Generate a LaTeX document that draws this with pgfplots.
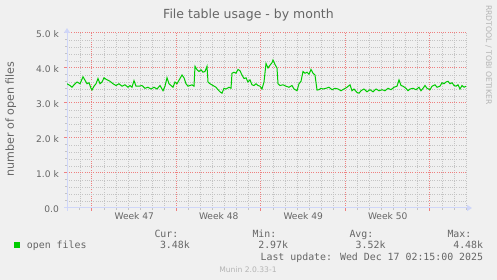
\documentclass[border=0pt]{standalone}
\usepackage{pgfplots}
\pgfplotsset{compat=1.18}
\usepackage{pgfplotstable}
\usepackage{fontspec}
\setmainfont{DejaVu Sans}
\newfontfamily\mono{DejaVu Sans Mono}
\usetikzlibrary{arrows.meta}
\definecolor{bg}{HTML}{F0F0F0}
\definecolor{fontc}{HTML}{666666}
\definecolor{axiscol}{HTML}{CFD6F8}
\definecolor{mgridc}{HTML}{EE8080}
\definecolor{gridc}{HTML}{C4C4C4}
\definecolor{linec}{HTML}{00CC00}
\definecolor{wm}{HTML}{B4B4B4}

\pgfplotstableread{
day value
0 3550
0.249 3500
0.414 3450
0.580 3520
0.829 3600
1.077 3550
1.243 3680
1.326 3750
1.491 3650
1.657 3550
1.823 3580
1.988 3420
2.071 3370
2.237 3480
2.403 3550
2.568 3700
2.734 3550
2.900 3600
3.065 3720
3.231 3680
3.397 3650
3.563 3620
3.811 3550
4.060 3500
4.308 3550
4.557 3480
4.805 3520
5.054 3450
5.220 3500
5.385 3450
5.551 3640
5.717 3480
5.965 3480
6.214 3500
6.462 3420
6.711 3450
6.959 3400
7.208 3450
7.457 3400
7.705 3500
7.871 3400
7.954 3350
8.119 3480
8.285 3720
8.451 3550
8.616 3500
8.782 3450
8.948 3600
9.113 3550
9.362 3700
9.528 3800
9.693 3720
9.859 3550
10.025 3480
10.190 3500
10.356 3520
10.522 3480
10.605 4050
10.770 3950
10.936 3900
11.102 3950
11.267 3880
11.433 3900
11.599 4050
11.682 3600
11.847 3550
12.096 3500
12.344 3450
12.510 3380
12.676 3320
12.842 3280
13.007 3420
13.173 3400
13.422 3450
13.587 3420
13.670 3850
13.836 3880
14.002 3850
14.167 3960
14.333 3920
14.499 3800
14.664 3700
14.830 3720
14.996 3600
15.161 3660
15.327 3520
15.493 3500
15.658 3550
15.824 3500
15.990 3480
16.156 3400
16.321 3600
16.487 4130
16.653 4000
16.818 4080
16.984 4150
17.067 4230
17.233 4100
17.398 4000
17.482 3550
17.647 3500
17.896 3520
18.144 3480
18.393 3450
18.641 3500
18.807 3400
19.056 3350
19.221 3550
19.387 3620
19.553 3900
19.718 3850
19.884 3880
20.050 3820
20.215 3960
20.381 3850
20.547 3800
20.712 3370
20.878 3380
21.044 3420
21.210 3400
21.458 3420
21.707 3450
21.955 3380
22.204 3420
22.453 3400
22.701 3350
22.950 3400
23.198 3450
23.447 3520
23.612 3350
23.778 3400
24.027 3300
24.193 3280
24.358 3350
24.607 3400
24.855 3320
25.104 3380
25.353 3320
25.601 3400
25.850 3350
26.098 3380
26.347 3350
26.595 3420
26.844 3380
27.093 3450
27.341 3480
27.507 3660
27.672 3500
27.838 3480
28.086 3420
28.252 3350
28.418 3400
28.666 3420
28.915 3380
29.164 3450
29.329 3350
29.495 3420
29.660 3500
29.826 3420
30.075 3380
30.241 3480
30.489 3520
30.655 3450
30.904 3480
31.069 3580
31.235 3550
31.401 3600
31.566 3620
31.732 3550
31.898 3580
32.063 3500
32.229 3480
32.395 3520
32.561 3400
32.726 3500
32.892 3450
33.058 3480
}\datatable

\begin{document}
\begin{tikzpicture}[x=1pt,y=1pt]
\fill[bg] (0,0) rectangle (497,280);
\begin{axis}[
  at={(67pt,72pt)}, anchor=south west,
  scale only axis, width=400pt, height=175pt,
  xmin=0, xmax=33.14, ymin=0, ymax=5000,
  axis lines=left,
  axis line style={draw=axiscol, line width=1pt},
  x axis line style={-{Triangle[width=6pt,length=5pt]}, shorten >=-5pt, shorten <=-3pt},
  y axis line style={-{Triangle[width=6pt,length=5pt]}, shorten >=-5pt, shorten <=-3pt},
  xtick={2.07,9.07,16.07,23.07,30.07}, xticklabels={},
  minor xtick={0.07,1.07,3.07,4.07,5.07,6.07,7.07,8.07,10.07,11.07,12.07,13.07,14.07,15.07,17.07,18.07,19.07,20.07,21.07,22.07,24.07,25.07,26.07,27.07,28.07,29.07,31.07,32.07,33.07},
  extra x ticks={5.57,12.57,19.57,26.57},
  extra x tick labels={Week 47,Week 48,Week 49,Week 50},
  extra x tick style={grid=none, major tick length=0pt},
  ytick={0,1000,2000,3000,4000,5000},
  yticklabels={0.0,1.0 k,2.0 k,3.0 k,4.0 k,5.0 k},
  minor ytick={200,400,600,800,1200,1400,1600,1800,2200,2400,2600,2800,3200,3400,3600,3800,4200,4400,4600,4800},
  xmajorgrids, ymajorgrids, xminorgrids, yminorgrids,
  major grid style={color=mgridc, line width=1pt, dash pattern=on 1pt off 1.2pt},
  minor grid style={color=gridc, line width=0.8pt, dash pattern=on 1pt off 1.2pt},
  tick align=outside, major tick length=3pt, minor tick length=2pt,
  major tick style={draw=mgridc, line width=1pt},
  minor tick style={draw=gridc, line width=1pt},
  tick label style={font=\fontsize{9.1}{10}\selectfont, text=fontc, inner sep=0pt},
  yticklabel style={anchor=base east, yshift=-4.3pt, xshift=-5pt},
  xticklabel style={anchor=base, yshift=-11.3pt},
  scaled y ticks=false,
]
\addplot[linec, line width=1pt] table[x=day,y=value]{\datatable};
\end{axis}
\node[anchor=base, inner sep=0pt, font=\fontsize{12.5}{14}\selectfont, text=fontc] at (248.5,261.7) {File table usage - by month};
\node[rotate=90, inner sep=0pt, font=\fontsize{11.1}{13}\selectfont, text=fontc] at (10.8,161) {number of open files};
\node[rotate=-90, anchor=west, inner sep=0pt, font=\fontsize{7.7}{9}\selectfont, text=wm] at (488.7,275) {RRDTOOL / TOBI OETIKER};
\fill[linec] (14,32) rectangle (20,38);
\begin{scope}[every node/.style={inner sep=0pt, font=\mono\fontsize{9.9}{11}\selectfont, text=fontc}]
\node[anchor=base west] at (26.7,31) {open files};
\node[anchor=base west] at (154.3,42.7) {Cur:};
\node[anchor=base west] at (252.3,42.7) {Min:};
\node[anchor=base west] at (349.3,42.7) {Avg:};
\node[anchor=base west] at (447.3,42.7) {Max:};
\node[anchor=base east] at (190,31) {3.48k};
\node[anchor=base east] at (288.3,31) {2.97k};
\node[anchor=base east] at (385.7,31) {3.52k};
\node[anchor=base east] at (483.3,31) {4.48k};
\node[anchor=base east] at (483.3,19.7) {Last update: Wed Dec 17 02:15:00 2025};
\end{scope}
\node[anchor=base, inner sep=0pt, font=\fontsize{7.6}{9}\selectfont, text=wm] at (248,7.5) {Munin 2.0.33-1};
\pgfresetboundingbox
\path[use as bounding box] (0,0) rectangle (497,280);
\end{tikzpicture}
\end{document}
